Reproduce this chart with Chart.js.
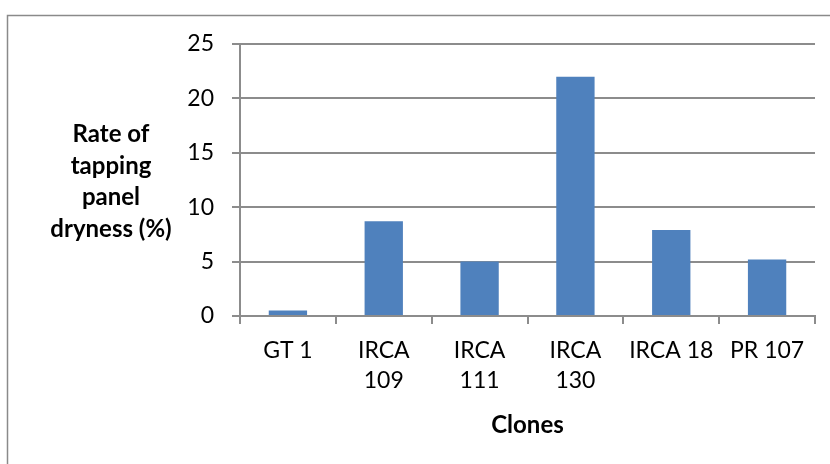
<!DOCTYPE html>
<html>
<head>
<meta charset="utf-8">
<script src="https://cdn.jsdelivr.net/npm/chart.js@4.4.0/dist/chart.umd.min.js"></script>
<style>
    html, body { margin: 0; padding: 0; background: #fff; }
    #wrap { position: relative; width: 830px; height: 464px; }
</style>
</head>
<body>
<div id="wrap"><canvas id="dryness-chart" width="830" height="464"></canvas></div>
<script>
const clones = [['GT 1'], ['IRCA', '109'], ['IRCA', '111'], ['IRCA', '130'], ['IRCA 18'], ['PR 107']];
const drynessRate = [0.5, 8.7, 5.0, 22.0, 7.9, 5.2];
const yTitleLines = ['Rate of', 'tapping', 'panel', 'dryness (%)'];
const xTitle = 'Clones';

const barColor = '#4F81BD';
const axisColor = '#8c8c8c';
const fontFamily = 'Lato, "Open Sans", sans-serif';

// Outer chart frame (it runs off the right and bottom edges of the picture) and the
// horizontal, stacked y axis title that Chart.js can't draw by itself.
const framePlugin = {
    id: 'frame',
    beforeDraw: (chart) => {
        const ctx = chart.ctx;
        ctx.save();
        ctx.strokeStyle = '#8a8a8a';
        ctx.lineWidth = 1.5;
        ctx.beginPath();
        ctx.moveTo(7.5, chart.height + 5);
        ctx.lineTo(7.5, 15.5);
        ctx.lineTo(chart.width + 5, 15.5);
        ctx.stroke();
        ctx.restore();
    },
    afterDraw: (chart) => {
        const ctx = chart.ctx;
        ctx.save();
        ctx.fillStyle = '#000';
        ctx.font = `bold 24px ${fontFamily}`;
        ctx.textAlign = 'center';
        ctx.textBaseline = 'alphabetic';
        yTitleLines.forEach((line, i) => {
            ctx.fillText(line, 111, 142 + i * 31.6);
        });
        ctx.restore();
    },
};

const ctx = document.getElementById('dryness-chart').getContext('2d');
const chart = new Chart(ctx, {
    type: 'bar',
    data: {
        labels: clones,
        datasets: [{
            data: drynessRate,
            backgroundColor: barColor,
            categoryPercentage: 1,
            barPercentage: 0.4,
        }],
    },
    options: {
        responsive: false,
        animation: false,
        layout: {
            padding: { left: 0, right: 15, top: 44, bottom: 0 },
        },
        plugins: {
            legend: { display: false },
            tooltip: { enabled: false },
        },
        scales: {
            x: {
                grid: {
                    offset: true,
                    drawOnChartArea: false,
                    drawTicks: true,
                    tickLength: 8,
                    color: axisColor,
                    lineWidth: 2,
                },
                border: { color: axisColor, width: 2 },
                ticks: {
                    color: '#000',
                    padding: 12,
                    maxRotation: 0,
                    autoSkip: false,
                    font: { family: fontFamily, size: 23, lineHeight: 1.3 },
                },
                title: {
                    display: true,
                    text: xTitle,
                    color: '#000',
                    font: { family: fontFamily, size: 24, weight: 'bold', lineHeight: 1.2 },
                    padding: { top: 0, bottom: 24 },
                },
                afterFit: (scale) => { scale.height = 148; },
            },
            y: {
                min: 0,
                max: 25,
                ticks: {
                    stepSize: 5,
                    color: '#000',
                    padding: 18,
                    font: { family: fontFamily, size: 23 },
                },
                grid: {
                    color: axisColor,
                    lineWidth: 2,
                    tickLength: 8,
                },
                border: { color: axisColor, width: 2 },
                afterFit: (scale) => { scale.width = 240; },
            },
        },
    },
    plugins: [framePlugin],
});
</script>
</body>
</html>
